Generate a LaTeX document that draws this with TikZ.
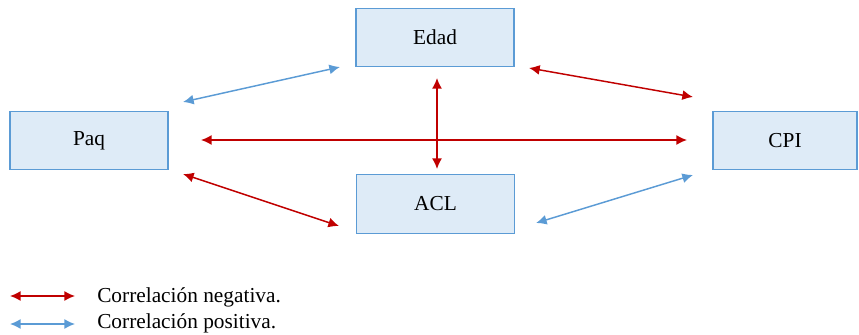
\documentclass[tikz,border=0pt]{standalone}
\usepackage{fontspec}
\setmainfont{Liberation Serif}
\usetikzlibrary{arrows.meta}
\definecolor{boxfill}{HTML}{DEEBF7}
\definecolor{boxline}{HTML}{5B9BD5}
\definecolor{negred}{HTML}{C00000}
\begin{document}
\begin{tikzpicture}[x=0.75pt,y=-0.75pt]
\tikzset{var/.style={draw=boxline, fill=boxfill, line width=0.9pt, inner sep=0pt, minimum width=118.5pt, minimum height=44pt, font=\fontsize{16}{19}\selectfont},
  negcor/.style={draw=negred, line width=1.1pt, {Latex[length=8pt,width=7.5pt]}-{Latex[length=8pt,width=7.5pt]}},
  poscor/.style={draw=boxline, line width=1.1pt, {Latex[length=8pt,width=7.5pt]}-{Latex[length=8pt,width=7.5pt]}},
  legtext/.style={anchor=west, inner sep=0pt, font=\fontsize{16}{19}\selectfont}}
    \useasboundingbox (0,0) rectangle (859,335);
    \node[var] at (89,140.5) (paq) {Paq};
    \node[var] at (435,37.5) (edad) {Edad};
    \node[var] at (435.5,204) (acl) {ACL};
    \node[var, minimum width=108pt] at (785,140.5) (cpi) {CPI};

    % free arrow ends
    \coordinate (paq_e) at (183,102);
    \coordinate (edad_p) at (340,67);
    \coordinate (paq_c) at (201,140);
    \coordinate (cpi_p) at (687,140);
    \coordinate (paq_a) at (183,174);
    \coordinate (acl_p) at (339,226);
    \coordinate (edad_c) at (529,68);
    \coordinate (cpi_e) at (693,97);
    \coordinate (edad_a) at (437,78);
    \coordinate (acl_e) at (437,169);
    \coordinate (acl_c) at (536,223);
    \coordinate (cpi_a) at (693,175);

    \draw[poscor] (paq_e) -- (edad_p);
    \draw[negcor] (paq_c) -- (cpi_p);
    \draw[negcor] (paq_a) -- (acl_p);
    \draw[negcor] (edad_c) -- (cpi_e);
    \draw[negcor] (edad_a) -- (acl_e);
    \draw[poscor] (acl_c) -- (cpi_a);

    % legend
    \coordinate (neg_l) at (10,296);
    \coordinate (neg_r) at (75,296);
    \coordinate (pos_l) at (10,324);
    \coordinate (pos_r) at (75,324);
    \draw[negcor] (neg_l) -- (neg_r);
    \draw[poscor] (pos_l) -- (pos_r);
    \node[legtext] at (97,297) (neg_t) {Correlación negativa.};
    \node[legtext] at (97,323) (pos_t) {Correlación positiva.};
  \end{tikzpicture}
\end{document}
